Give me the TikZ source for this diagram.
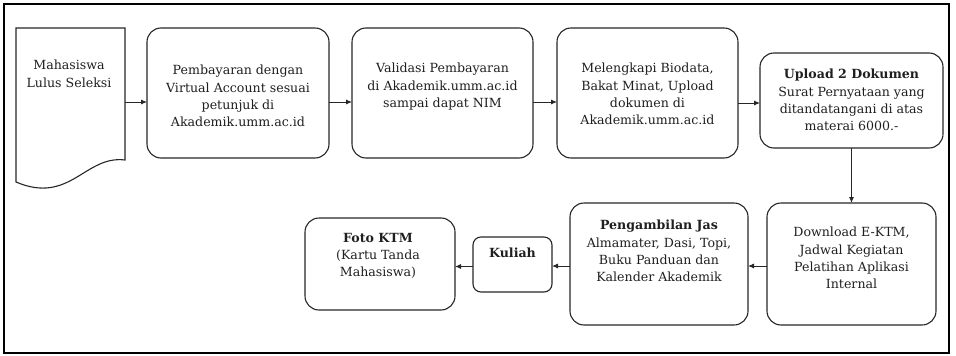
\documentclass[tikz,border=0pt]{standalone}
\usepackage{fontspec}
\setmainfont{DejaVu Serif}
\usetikzlibrary{arrows.meta}
\definecolor{edge}{gray}{0.15}
\definecolor{ink}{gray}{0.12}
\begin{document}
\begin{tikzpicture}[x=1pt,y=-1pt,
  stepbox/.style={draw=edge, line width=1.1pt, rounded corners=14pt, inner sep=0pt, outer sep=0pt},
  smallbox/.style={stepbox, rounded corners=8pt},
  txt/.style={anchor=north, align=center, inner sep=0pt, text=ink,
              font=\fontsize{12.6}{17.3}\selectfont},
  arr/.style={draw=edge, line width=0.9pt, -{Latex[length=6pt,width=5pt]}}]
\useasboundingbox (0,0) rectangle (956,356);

% outer frame
\draw[line width=2.2pt, draw=black] (4,4) rectangle (949,353);

% starting document shape
\node[inner sep=0pt, outer sep=0pt, minimum width=109pt, minimum height=148pt] (doc) at (70.5,102) {};
\draw[draw=edge, line width=1.1pt] (16,28) -- (125,28) -- (125,160)
  .. controls (85,155) and (70,205) .. (16,182) -- cycle;
\node[txt] (tdoc) at (69,60) {Mahasiswa\\Lulus Seleksi};

% top row
\node[stepbox, minimum width=182pt, minimum height=130pt] (pay) at (238,93) {};
\node[txt] (tpay) at (238,65) {Pembayaran dengan\\Virtual Account sesuai\\petunjuk di\\Akademik.umm.ac.id};

\node[stepbox, minimum width=181pt, minimum height=130pt] (val) at (442.5,93) {};
\node[txt] (tval) at (442.5,63) {Validasi Pembayaran\\di Akademik.umm.ac.id\\sampai dapat NIM};

\node[stepbox, minimum width=181pt, minimum height=130pt] (bio) at (647.5,93) {};
\node[txt] (tbio) at (647.5,63) {Melengkapi Biodata,\\Bakat Minat, Upload\\dokumen di\\Akademik.umm.ac.id};

\node[stepbox, minimum width=183pt, minimum height=95pt] (upl) at (851.5,100.5) {};
\node[txt] (tupl) at (851.5,69) {\textbf{Upload 2 Dokumen}\\Surat Pernyataan yang\\ditandatangani di atas\\materai 6000.-};

% bottom row
\node[stepbox, minimum width=169pt, minimum height=122pt] (dl) at (851.5,264) {};
\node[txt] (tdl) at (851.5,227) {Download E-KTM,\\Jadwal Kegiatan\\Pelatihan Aplikasi\\Internal};

\node[stepbox, minimum width=178pt, minimum height=122pt] (peng) at (659,264) {};
\node[txt] (tpeng) at (659,220) {\textbf{Pengambilan Jas}\\Almamater, Dasi, Topi,\\Buku Panduan dan\\Kalender Akademik};

\node[smallbox, minimum width=79pt, minimum height=55pt] (kul) at (512.5,264.5) {};
\node[txt] (tkul) at (512.5,248) {\textbf{Kuliah}};

\node[stepbox, minimum width=150pt, minimum height=92pt] (foto) at (380,264) {};
\node[txt] (tfoto) at (378,233) {\textbf{Foto KTM}\\(Kartu Tanda\\Mahasiswa)};

% connectors
\draw[arr] (doc.east) -- (doc.east -| pay.west);
\draw[arr] ([yshift=-9pt]pay.east) -- ([yshift=-9pt]val.west);
\draw[arr] ([yshift=-9pt]val.east) -- ([yshift=-9pt]bio.west);
\draw[arr] ([yshift=-10pt]bio.east) -- ([yshift=-10pt]bio.east -| upl.west);
\draw[arr] (upl.south) -- (dl.north);
\draw[arr] ([yshift=-2pt]dl.west) -- ([yshift=-2pt]peng.east);
\draw[arr] ([yshift=-2pt]peng.west) -- ([yshift=-2pt]peng.west -| kul.east);
\draw[arr] ([yshift=-2pt]kul.west) -- ([yshift=-2pt]kul.west -| foto.east);
\end{tikzpicture}
\end{document}
